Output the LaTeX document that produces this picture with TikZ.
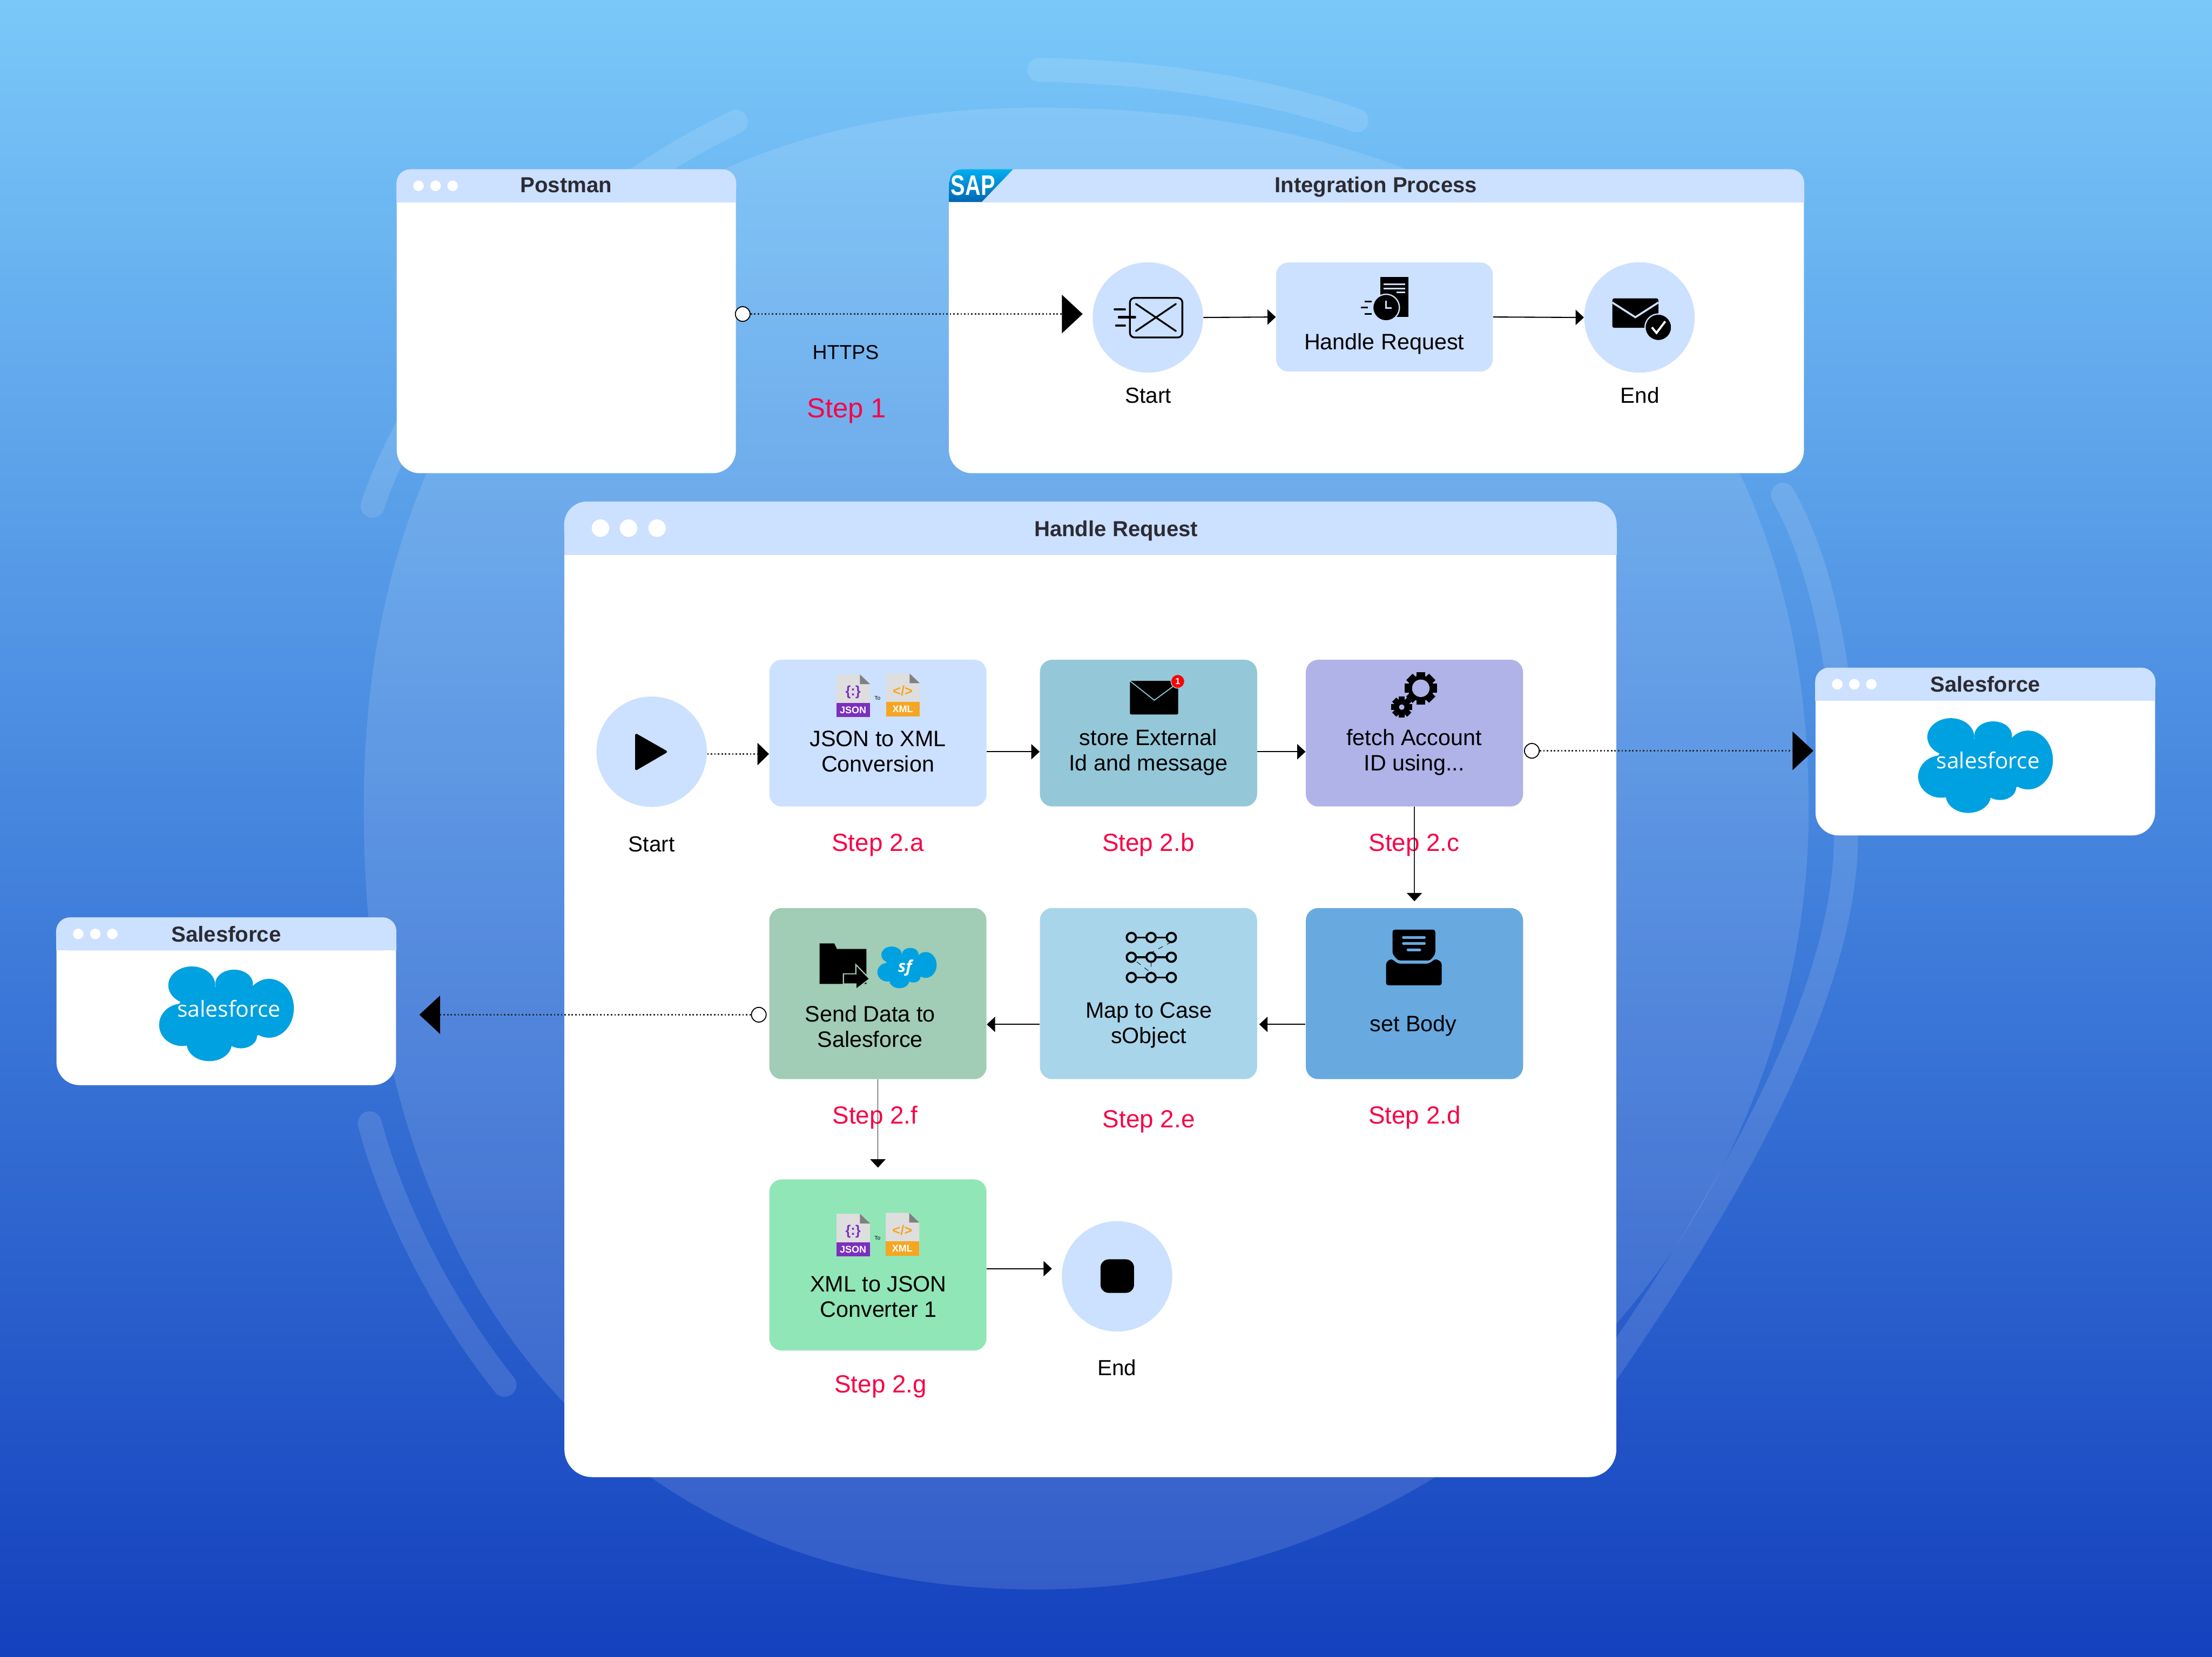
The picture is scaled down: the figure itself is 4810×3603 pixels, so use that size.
\documentclass[tikz,border=0pt]{standalone}
\usepackage{fontspec}
\setmainfont{Liberation Sans}
\newfontfamily\logofont{Open Sans}
\usetikzlibrary{arrows.meta}
\definecolor{skytop}{HTML}{7AC8F9}
\definecolor{skymid}{HTML}{4585DE}
\definecolor{skybottom}{HTML}{1441BE}
\definecolor{paneblue}{HTML}{CCE0FF}
\definecolor{storecol}{HTML}{94C8D9}
\definecolor{fetchcol}{HTML}{B0B3E8}
\definecolor{setcol}{HTML}{68A9E0}
\definecolor{mapcol}{HTML}{A8D5EA}
\definecolor{sendcol}{HTML}{A1CCB5}
\definecolor{xmlcol}{HTML}{90E6B6}
\definecolor{stepred}{HTML}{F90045}
\definecolor{titlegray}{HTML}{2B2B33}
\definecolor{sfblue}{HTML}{00A1E0}
\definecolor{saptop}{HTML}{00AEEF}
\definecolor{sapbottom}{HTML}{0066B3}
\definecolor{jsonpurple}{HTML}{7B2FBE}
\definecolor{xmlorange}{HTML}{F5A623}
\tikzset{
  >={Triangle[length=.18cm,width=.33cm,black]},
  line/.style={draw, ->, line width=.7pt},
  thinline/.style={draw, ->, line width=.55pt, black!85},
  dotline/.style={draw, dash pattern=on .9pt off 1.3pt, line width=.9pt, titlegray},
  bigtip/.style={-{Triangle[length=.45cm,width=.83cm,black]}},
  windowtop/.style={fill=paneblue}
}
% header band of a window
\newcommand{\windowhead}[3]{
  \fill[windowtop, rounded corners=#3] (#1.north west) rectangle ([yshift=-#2]#1.north east);
  \fill[windowtop] ([yshift=-.5*#2]#1.north west) rectangle ([yshift=-#2]#1.north east);
}
\newcommand{\windowdots}[1]{
  \foreach \dx in {.48,.85,1.22}
    \fill[white] ([xshift=\dx cm, yshift=-.36cm]#1.north west) circle (.115cm);
}
\newcommand{\fileicon}[6]{
  \begin{scope}[shift={(#2,#3)}]
    \fill[black!13] (0,0) -- (51,0) -- (73,21) -- (73,93) -- (0,93) -- cycle;
    \fill[black!50] (51,0) -- (73,21) -- (51,21) -- cycle;
    \fill[#4] (0,62) rectangle (73,93);
    \node [anchor=base, inner sep=0, text=white, font=\bfseries\fontsize{6}{7}\selectfont] (#1tag) at (36,85) {#5};
    \node [inner sep=0, text=#4, font=\bfseries\fontsize{8.5}{9}\selectfont] (#1glyph) at (36,38) {#6};
  \end{scope}
}
\newcommand{\gearicon}[5]{
  \begin{scope}[shift={(#1,#2)}]
    \fill (0,0) circle [radius=#4];
    \foreach \a in {0,45,...,315}
      \fill[rotate=\a] (-.28*#3,0) rectangle (.28*#3,-#3);
    \fill[fetchcol] (0,0) circle [radius=#5];
  \end{scope}
}
\newcommand{\cloudshape}{
  \fill[sfblue] (0,0) ellipse [x radius=110, y radius=60];
  \fill[sfblue] (-75,-62) ellipse [x radius=51, y radius=41];
  \fill[sfblue] (17,-65) ellipse [x radius=41, y radius=31];
  \fill[sfblue] (93,-12) ellipse [x radius=54, y radius=64];
  \fill[sfblue] (-96,24) ellipse [x radius=50, y radius=46];
  \fill[sfblue] (-37,65) ellipse [x radius=49, y radius=38];
  \fill[sfblue] (32,48) ellipse [x radius=35, y radius=27];
}
\begin{document}
\begin{tikzpicture}[x=0.01cm, y=-0.01cm]
    % Define styles
    \tikzstyle{window} = [rectangle, fill=white, rounded corners=.5cm, inner sep=0]
    \tikzstyle{tile} = [rectangle, rounded corners=.27cm, minimum width=4.72cm, inner sep=0]
    \tikzstyle{event} = [circle, fill=paneblue, minimum size=2.4cm, inner sep=0]
    \tikzstyle{port} = [circle, draw=black, fill=white, line width=.6pt, minimum size=.32cm, inner sep=0]
    \tikzstyle{title} = [anchor=base, inner sep=0, text=titlegray, font=\bfseries\fontsize{13.4}{15}\selectfont]
    \tikzstyle{caption} = [anchor=base, inner sep=0, font=\fontsize{13.5}{15.7}\selectfont]
    \tikzstyle{tiletext} = [anchor=base, align=center, inner sep=0, font=\fontsize{13.8}{15.7}\selectfont]
    \tikzstyle{steplabel} = [anchor=base, inner sep=0, text=stepred, font=\fontsize{15.3}{17}\selectfont]
    \tikzstyle{sfword} = [anchor=base, inner sep=0, text=white, font=\logofont\fontsize{13.6}{15}\selectfont]
    \tikzstyle{glow} = [white, opacity=.12]

    % Backdrop
    \useasboundingbox (0,0) rectangle (4810,3603);
    \shade[top color=skytop, bottom color=skybottom, middle color=skymid] (0,0) rectangle (4810,3603);
    \fill[glow] (2255,234) .. controls (3450,234) and (3933,920) .. (3933,1757)
        .. controls (3933,2695) and (3180,3457) .. (2255,3457)
        .. controls (1347,3457) and (791,2811) .. (791,1757)
        .. controls (791,813) and (1347,234) .. (2255,234) -- cycle;
    \draw[glow, line width=.52cm, line cap=round] (2260,152) .. controls (2500,155) and (2760,195) .. (2950,262);
    \draw[glow, line width=.52cm, line cap=round] (1600,265) .. controls (1200,460) and (920,780) .. (810,1100);
    \draw[glow, line width=.52cm, line cap=round] (804,2443) .. controls (850,2620) and (960,2840) .. (1097,3012);
    \draw[glow, line width=.52cm, line cap=round] (3877,1076) .. controls (4000,1300) and (4014,1600) .. (4014,1819)
        .. controls (4014,2200) and (3700,2700) .. (3400,3120);

    % Place windows
    \node [window, minimum width=7.37cm, minimum height=6.6cm] (postman) at (1231.5,699) {};
    \node [window, minimum width=18.58cm, minimum height=6.6cm] (integration) at (2993,699) {};
    \node [window, rounded corners=.6cm, minimum width=22.86cm, minimum height=21.2cm] (handle) at (2371,2152) {};
    \node [window, minimum width=7.38cm, minimum height=3.64cm] (sfright) at (4317,1635) {};
    \node [window, minimum width=7.38cm, minimum height=3.64cm] (sfleft) at (492,2178) {};
    \windowhead{postman}{.72cm}{.3cm}
    \windowhead{integration}{.72cm}{.3cm}
    \windowhead{handle}{1.16cm}{.5cm}
    \windowhead{sfright}{.72cm}{.3cm}
    \windowhead{sfleft}{.72cm}{.3cm}
    \windowdots{postman}
    \windowdots{sfright}
    \windowdots{sfleft}
    \foreach \dx in {.79,1.40,2.02}
      \fill[white] ([xshift=\dx cm, yshift=-.58cm]handle.north west) circle (.19cm);
    \node [title] (postmantitle) at (1231,419) {Postman};
    \node [title] (integrationtitle) at (2992,419) {Integration Process};
    \node [title] (handletitle) at (2427,1167) {Handle Request};
    \node [title] (sfrighttitle) at (4317,1505) {Salesforce};
    \node [title] (sflefttitle) at (492,2048) {Salesforce};

    % SAP badge
    \shade[top color=saptop, bottom color=sapbottom] (2064,439) -- (2064,398)
        .. controls (2064,380) and (2076,368) .. (2094,368) -- (2203,368) -- (2135,439) -- cycle;
    \node [inner sep=0, text=white, font=\bfseries\fontsize{17.5}{19}\selectfont] (saplogo) at (2116,403) {\scalebox{.76}[1]{SAP}};

    % Place nodes of the integration process
    \node [event] (intstart) at (2496,690.5) {};
    \node [tile, fill=paneblue, minimum width=4.71cm, minimum height=2.37cm] (inthandle) at (3010.5,689.5) {};
    \node [event] (intend) at (3565,690.5) {};
    \node [caption] (intstartlabel) at (2497,877) {Start};
    \node [caption] (intendlabel) at (3566,877) {End};
    \node [tiletext] (inthandletext) at (3010,760) {Handle Request};
    \node [caption, font=\fontsize{12.5}{14}\selectfont] (https) at (1839,781) {HTTPS};
    \node [steplabel, font=\fontsize{17}{19}\selectfont] (stepone) at (1841,908) {Step 1};
    \node [port] (postmanport) at (1615,683) {};

    % Place nodes of the handle request
    \node [event] (play) at (1417,1635) {};
    \node [tile, fill=paneblue, minimum height=3.19cm] (jsonxml) at (1909,1594.5) {};
    \node [tile, fill=storecol, minimum height=3.19cm, right of=jsonxml, node distance=5.88cm] (store) {};
    \node [tile, fill=fetchcol, minimum height=3.19cm, right of=store, node distance=5.78cm] (fetch) {};
    \node [tile, fill=sendcol, minimum height=3.72cm] (sendsf) at (1909,2161) {};
    \node [tile, fill=mapcol, minimum height=3.72cm, right of=sendsf, node distance=5.88cm] (mapcase) {};
    \node [tile, fill=setcol, minimum height=3.72cm, right of=mapcase, node distance=5.78cm] (setbody) {};
    \node [tile, fill=xmlcol, minimum height=3.72cm, below of=sendsf, node distance=5.9cm] (xmljson) {};
    \node [event] (stopnode) at (2429,2776) {};
    \node [port] (fetchport) at (3331,1633) {};
    \node [port] (sendport) at (1650,2207) {};

    % Tile texts
    \node [caption] (playlabel) at (1417,1852) {Start};
    \node [tiletext] (jsonxmltext) at (1909,1679) {JSON to XML\\Conversion};
    \node [tiletext] (storetext) at (2497,1676) {store External\\Id and message};
    \node [tiletext] (fetchtext) at (3075,1676) {fetch Account\\ID using...};
    \node [tiletext] (sendtext) at (1892,2278) {Send Data to\\Salesforce};
    \node [tiletext] (maptext) at (2498,2269) {Map to Case\\sObject};
    \node [tiletext] (settext) at (3073,2243) {set Body};
    \node [tiletext] (xmltext) at (1910,2865) {XML to JSON\\Converter 1};
    \node [caption] (stoplabel) at (2429,2991) {End};
    \node [steplabel] (stepa) at (1909,1851) {Step 2.a};
    \node [steplabel] (stepb) at (2497,1851) {Step 2.b};
    \node [steplabel] (stepc) at (3075,1851) {Step 2.c};
    \node [steplabel] (stepd) at (3076,2444) {Step 2.d};
    \node [steplabel] (stepe) at (2498,2453) {Step 2.e};
    \node [steplabel] (stepf) at (1903,2444) {Step 2.f};
    \node [steplabel] (stepg) at (1915,3029) {Step 2.g};

    % Draw edges
    \path [dotline, bigtip, shorten >=.21cm] (postmanport.east) -- (postmanport.east -| intstart.west);
    \path [line] (intstart.east) -- (inthandle.west);
    \path [line] (inthandle.east) -- (intend.west);
    \path [dotline, line width=1.1pt, -{Triangle[length=.25cm,width=.48cm,black]}] ([yshift=-.05cm]play.east) -- ([yshift=-.05cm]play.east -| jsonxml.west);
    \path [line] ([yshift=-.405cm]jsonxml.east) -- ([yshift=-.405cm]store.west);
    \path [line] ([yshift=-.405cm]store.east) -- ([yshift=-.405cm]fetch.west);
    \path [dotline, bigtip, shorten >=.04cm] (fetchport.east) -- (fetchport.east -| sfright.west);
    \path [thinline, shorten >=.14cm] (fetch.south) -- (setbody.north);
    \path [line, shorten >=.04cm] ([yshift=-.67cm]setbody.west) -- ([yshift=-.67cm]mapcase.east);
    \path [line] ([yshift=-.67cm]mapcase.west) -- ([yshift=-.67cm]sendsf.east);
    \path [dotline, bigtip, shorten >=.5cm] (sendport.west) -- (sendport.west -| sfleft.east);
    \path [thinline] (sendsf.south) -- ([yshift=.25cm]xmljson.north);
    \path [line, shorten >=.21cm] ([yshift=-.08cm]xmljson.east) -- ([yshift=-.08cm]xmljson.east -| stopnode.west);

    % Icons
    \begin{scope}[shift={(4317,1665)}]
      \cloudshape
    \end{scope}
    \node [sfword] (sfrightword) at (4323,1672) {salesforce};
    \begin{scope}[shift={(492,2205)}]
      \cloudshape
    \end{scope}
    \node [sfword] (sfleftword) at (498,2212) {salesforce};
    \begin{scope}[shift={(1972,2104)}, scale=.44]
      \cloudshape
    \end{scope}
    \node [anchor=base, inner sep=0, text=white, font=\logofont\itshape\bfseries\fontsize{10}{11}\selectfont] (sfmini) at (1968,2114) {sf};

    % start envelope
    \draw[line width=1.1pt, rounded corners=.1cm] (2457,648) rectangle (2571,734);
    \draw[line width=1.1pt, line cap=round] (2470,661) -- (2557,720) (2557,661) -- (2470,720);
    \draw[line width=1.4pt, line cap=round] (2424,673) -- (2446,673) (2433,690) -- (2468,690) (2427,708) -- (2446,708);
    % handle request icon
    \fill (3001,603) rectangle (3063,689);
    \draw[paneblue, line width=.9pt] (3008,618) -- (3056,618) (3008,628) -- (3056,628) (3037,636) -- (3056,636);
    \fill[draw=paneblue, line width=.8pt] (3014,669) circle [radius=29];
    \draw[paneblue, line width=.9pt] (3014,654) -- (3014,670) -- (3026,670);
    \draw[line width=1pt] (2967,656) -- (2983,656) (2959,669) -- (2975,669) (2967,683) -- (2983,683);
    % end envelope
    \fill[rounded corners=.04cm] (3506,649) rectangle (3606,713);
    \draw[paneblue, line width=1.2pt] (3506,658) -- (3556,690) -- (3606,658);
    \fill[draw=paneblue, line width=.8pt] (3606,712) circle [radius=29];
    \draw[white, line width=1.3pt] (3592,712) -- (3602,724) -- (3621,699);
    % play and stop
    \fill[rounded corners=.05cm] (1381,1594) -- (1453,1635) -- (1381,1677) -- cycle;
    \fill[rounded corners=.18cm] (2393,2739) rectangle (2466,2812);
    % file icons
    \fileicon{jsona}{1819}{1467}{jsonpurple}{JSON}{\{:\}}
    \fileicon{xmla}{1927}{1465}{xmlorange}{XML}{</>}
    \node [inner sep=0, font=\fontsize{3.4}{4}\selectfont] (toa) at (1908,1519) {To};
    \fileicon{jsonb}{1819}{2640}{jsonpurple}{JSON}{\{:\}}
    \fileicon{xmlb}{1926}{2638}{xmlorange}{XML}{</>}
    \node [inner sep=0, font=\fontsize{3.4}{4}\selectfont] (tob) at (1908,2693) {To};
    % mail with badge
    \fill[rounded corners=.03cm] (2457,1481) rectangle (2562,1554);
    \draw[storecol, line width=.6pt] (2457,1481) -- (2510,1523) -- (2552,1492);
    \fill[red, draw=storecol, line width=.5pt] (2561,1482) circle [radius=15];
    \node [inner sep=0, text=white, font=\bfseries\fontsize{5.5}{6}\selectfont] (badge) at (2561,1482) {1};
    % gears
    \gearicon{3089.5}{1497}{35}{28}{19}
    \gearicon{3048}{1538}{23}{17}{6}
    % folder
    \fill (1782,2052) -- (1814,2052) -- (1820,2064) -- (1884,2064) -- (1884,2140) -- (1782,2140) -- cycle;
    \fill[draw=sendcol, line width=.7pt] (1834,2118) -- (1861,2118) -- (1861,2098) -- (1891,2129) -- (1861,2152) -- (1861,2140) -- (1834,2140) -- cycle;
    % map rows
    \foreach \ry in {2039,2082,2126} {
      \draw[line width=1.1pt] (2460,\ry) -- (2547,\ry);
      \foreach \rx in {2460,2503,2547}
        \draw[fill=mapcol, line width=1.3pt] (\rx,\ry) circle [radius=10];
    }
    \draw[line width=.3pt, dashed] (2547,2049) -- (2503,2072) (2472,2092) -- (2503,2116) (2503,2092) -- (2503,2116);
    % inbox
    \fill[rounded corners=.05cm] (3028,2022) -- (3121,2022) -- (3121,2075) -- (3110,2089) -- (3040,2089) -- (3028,2075) -- cycle;
    \fill[setcol, rounded corners=.02cm] (3049,2036) rectangle (3100,2042);
    \fill[setcol, rounded corners=.02cm] (3049,2049) rectangle (3100,2055);
    \fill[setcol, rounded corners=.02cm] (3059,2063) rectangle (3090,2069);
    \fill[rounded corners=.05cm] (3014,2093) -- (3025,2085) -- (3040,2096) -- (3107,2096) -- (3122,2085) -- (3135,2093) -- (3135,2143) -- (3014,2143) -- cycle;
\end{tikzpicture}
\end{document}
